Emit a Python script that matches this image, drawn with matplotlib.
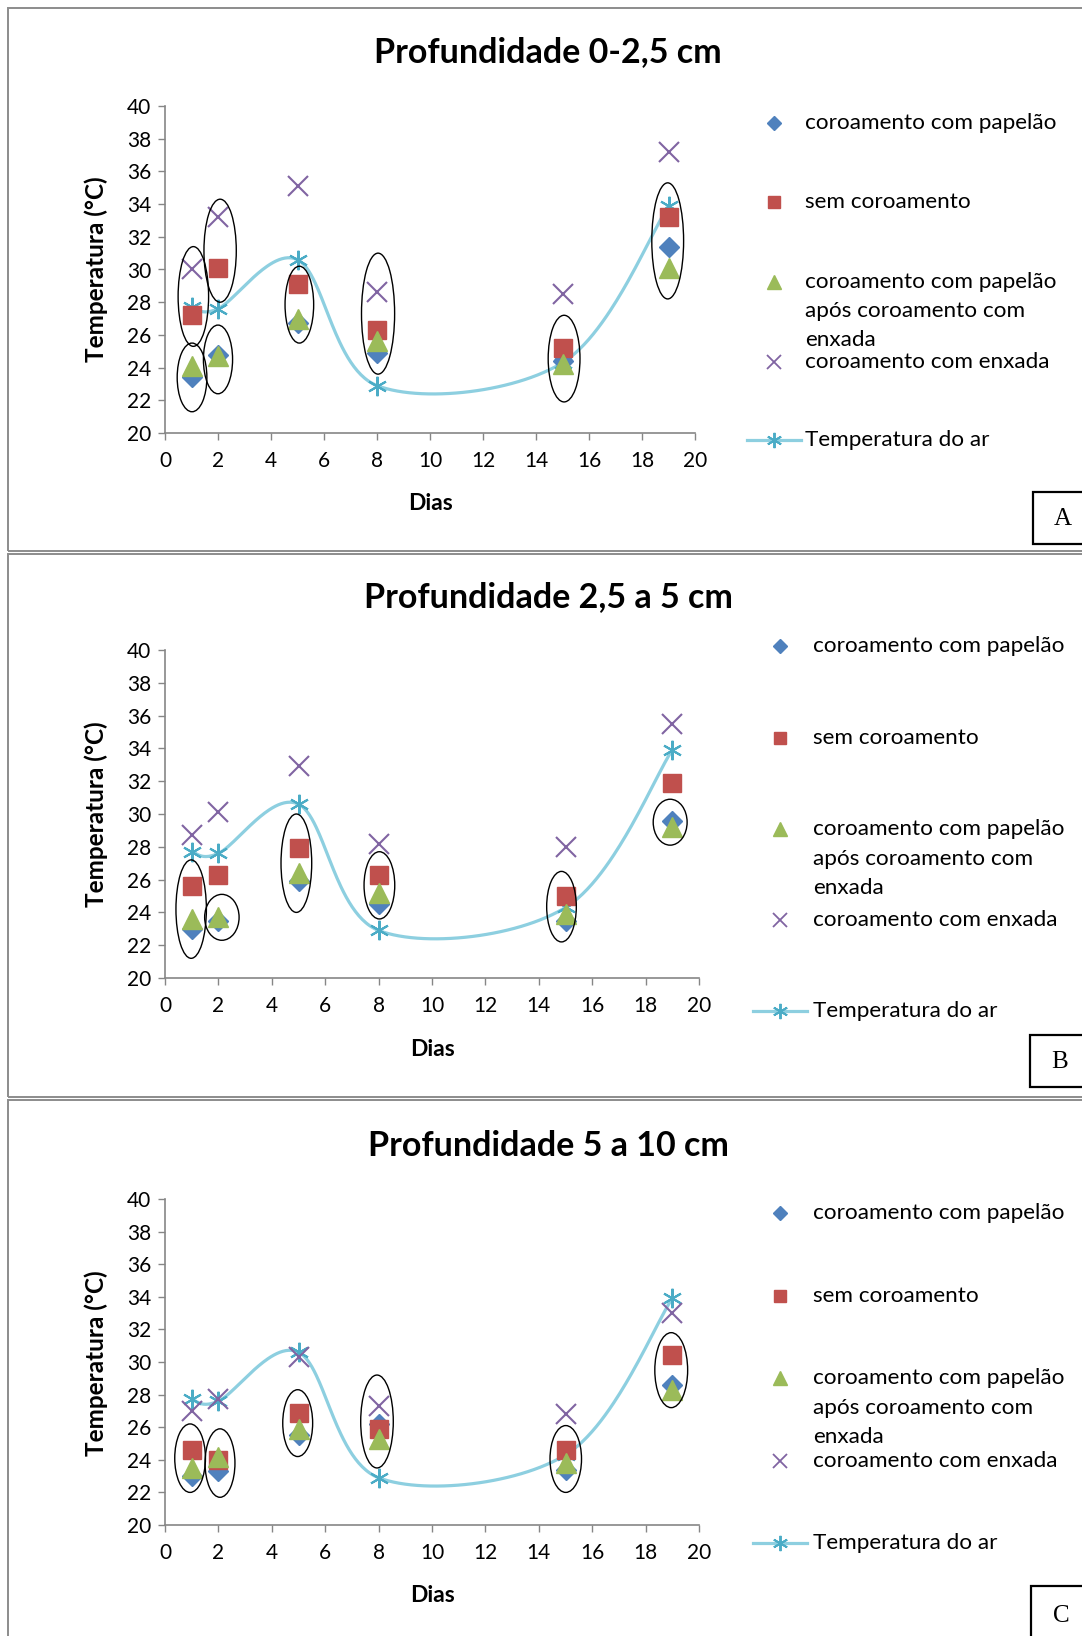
import numpy as np
import matplotlib
matplotlib.use("Agg")
import matplotlib.pyplot as plt
from matplotlib.patches import Ellipse, Rectangle
from matplotlib.lines import Line2D

plt.rcParams['font.family'] = ['Lato', 'DejaVu Sans']

# ---------------- data ----------------
days = [1, 2, 5, 8, 15, 19]
air_temp = [27.7, 27.6, 30.6, 22.9, 24.3, 33.9]

# Profundidade 0-2,5 cm
a_papelao = [23.4, 24.8, 26.7, 24.9, 24.4, 31.4]
a_sem = [27.2, 30.1, 29.1, 26.3, 25.2, 33.2]
a_pap_enx = [24.1, 24.7, 27.0, 25.6, 24.2, 30.1]
a_enxada = [30.0, 33.2, 35.1, 28.6, 28.5, 37.2]

# Profundidade 2,5 a 5 cm
b_papelao = [23.0, 23.5, 25.9, 24.5, 23.5, 29.6]
b_sem = [25.6, 26.3, 27.9, 26.3, 25.0, 31.9]
b_pap_enx = [23.6, 23.7, 26.4, 25.2, 23.9, 29.2]
b_enxada = [28.7, 30.1, 32.9, 28.2, 28.0, 35.5]

# Profundidade 5 a 10 cm
c_papelao = [23.0, 23.3, 25.5, 26.2, 23.4, 28.6]
c_sem = [24.6, 24.0, 26.9, 25.9, 24.6, 30.4]
c_pap_enx = [23.5, 24.2, 25.9, 25.3, 23.8, 28.3]
c_enxada = [27.0, 27.7, 30.3, 27.3, 26.8, 33.0]

titles = ["Profundidade 0-2,5 cm", "Profundidade 2,5 a 5 cm", "Profundidade 5 a 10 cm"]
panel_letters = ["A", "B", "C"]
legend_labels = ["coroamento com papelão", "sem coroamento",
                 "coroamento com papelão\napós coroamento com\nenxada",
                 "coroamento com enxada", "Temperatura do ar"]
x_ticks = list(range(0, 21, 2))
y_ticks = list(range(20, 41, 2))

# annotation ellipses: (day, y_low, y_high, width in days)
ellipses_a = [(1.07, 25.3, 31.4, 1.15), (1.02, 21.3, 25.5, 1.12), (2.08, 28.0, 34.3, 1.22),
              (2.0, 22.4, 26.6, 1.1), (5.07, 25.5, 30.2, 1.08), (8.04, 23.6, 31.0, 1.25),
              (15.06, 21.9, 27.2, 1.2), (18.97, 28.2, 35.3, 1.2)]
ellipses_b = [(0.98, 21.2, 27.2, 1.14), (2.13, 22.3, 25.1, 1.29), (4.92, 24.0, 30.0, 1.15),
              (8.03, 23.6, 27.7, 1.15), (14.85, 22.2, 26.5, 1.11), (18.92, 28.1, 30.9, 1.27)]
ellipses_c = [(0.94, 22.0, 26.2, 1.15), (2.06, 21.7, 25.9, 1.12), (4.97, 24.2, 28.3, 1.12),
              (7.94, 23.5, 29.2, 1.22), (15.01, 22.0, 26.1, 1.18), (18.96, 27.2, 31.8, 1.23)]

# ---------------- styles ----------------
C_BLUE = '#4F81BD'
C_RED = '#C0504D'
C_GREEN = '#9BBB59'
C_PURPLE = '#8064A2'
C_AQUA = '#4BACC6'
C_AIRLINE = '#8DCFE0'
GRAY = '#868686'

W, H = 1082, 1636
fig = plt.figure(figsize=(W / 100, H / 100), dpi=100)


def fx(px):
    return px / W


def fy(py):
    return 1 - py / H


def excel_smooth(x, y, n=60):
    x = np.asarray(x, float)
    y = np.asarray(y, float)
    px = np.concatenate([[x[0]], x, [x[-1]]])
    py = np.concatenate([[y[0]], y, [y[-1]]])
    t = np.linspace(0, 1, n)
    xs, ys = [], []
    for i in range(1, len(px) - 2):
        p0x, p1x, p2x, p3x = px[i - 1:i + 3]
        p0y, p1y, p2y, p3y = py[i - 1:i + 3]
        c1x, c1y = p1x + (p2x - p0x) / 6, p1y + (p2y - p0y) / 6
        c2x, c2y = p2x - (p3x - p1x) / 6, p2y - (p3y - p1y) / 6
        bx = (1 - t) ** 3 * p1x + 3 * (1 - t) ** 2 * t * c1x + 3 * (1 - t) * t ** 2 * c2x + t ** 3 * p2x
        by = (1 - t) ** 3 * p1y + 3 * (1 - t) ** 2 * t * c1y + 3 * (1 - t) * t ** 2 * c2y + t ** 3 * p2y
        xs.append(bx)
        ys.append(by)
    return np.concatenate(xs), np.concatenate(ys)


STAR = (6, 2, 0)

series_styles = [
    dict(marker='D', color=C_BLUE, ms=10.5, mec=C_BLUE),
    dict(marker='s', color=C_RED, ms=13.5, mec=C_RED),
    dict(marker='^', color=C_GREEN, ms=14.5, mec=C_GREEN),
    dict(marker='x', color=C_PURPLE, ms=14, mew=1.5),
]
legend_styles = [
    dict(marker='D', color=C_BLUE, ms=7.5, mec=C_BLUE),
    dict(marker='s', color=C_RED, ms=9, mec=C_RED),
    dict(marker='^', color=C_GREEN, ms=10, mec=C_GREEN),
    dict(marker='x', color=C_PURPLE, ms=10, mew=1.3),
]

panels = [
    dict(rect=(165, 106, 695, 433), data=[a_papelao, a_sem, a_pap_enx, a_enxada], ell=ellipses_a,
         title_y=52, ylabel_y=269, xlabel=(430, 504), frame=(8, 8, 551),
         leg=(774, 805, [123, 202, 282, 362, 440], 29), box=(1033, 492, 1090, 544)),
    dict(rect=(165, 650, 699, 978), data=[b_papelao, b_sem, b_pap_enx, b_enxada], ell=ellipses_b,
         title_y=597, ylabel_y=814, xlabel=(432, 1049), frame=(8, 554, 1097),
         leg=(780, 813, [646, 738, 829, 920, 1011], 29.5), box=(1030, 1035, 1090, 1087)),
    dict(rect=(165, 1199, 699, 1525), data=[c_papelao, c_sem, c_pap_enx, c_enxada], ell=ellipses_c,
         title_y=1146, ylabel_y=1363, xlabel=(432, 1596), frame=(8, 1100, 1645),
         leg=(780, 813, [1213, 1296, 1378, 1461, 1543], 29.5), box=(1031, 1586, 1090, 1645)),
]

for k, p in enumerate(panels):
    # panel frame
    x0, t0, b0 = p['frame']
    fig.add_artist(Rectangle((fx(x0), fy(b0)), fx(1200) - fx(x0), fy(t0) - fy(b0),
                             transform=fig.transFigure, fill=False, ec='#8C8C8C', lw=1.4))

    l, t, r, b = p['rect']
    ax = fig.add_axes([fx(l), fy(b), fx(r) - fx(l), fy(t) - fy(b)])
    ax.set_xlim(0, 20)
    ax.set_ylim(20, 40)
    ax.set_xticks(x_ticks)
    ax.set_yticks(y_ticks)
    ax.tick_params(axis='both', direction='out', length=5, width=1, color=GRAY,
                   labelsize=15, pad=5)
    ax.tick_params(axis='x', pad=8)
    for s in ['top', 'right']:
        ax.spines[s].set_visible(False)
    for s in ['left', 'bottom']:
        ax.spines[s].set_color(GRAY)
        ax.spines[s].set_linewidth(1.2)
    ax.set_facecolor('none')

    # air temperature (drawn first, underneath)
    sx, sy = excel_smooth(days, air_temp)
    ax.plot(sx, sy, color=C_AIRLINE, lw=2.3, zorder=2, solid_capstyle='round')
    ax.plot(days, air_temp, linestyle='none', marker=STAR, ms=14, mew=1.5,
            color=C_AQUA, zorder=2.1)

    for j, (vals, st) in enumerate(zip(p['data'], series_styles)):
        ax.plot(days, vals, linestyle='none', zorder=3 + j * 0.1, clip_on=False, **st)

    for (d, lo, hi, w) in p['ell']:
        ax.add_patch(Ellipse((d, (lo + hi) / 2), w, hi - lo, fill=False, ec='black',
                             lw=1.0, zorder=5, clip_on=False))

    # texts
    fig.text(fx(548), fy(p['title_y']), titles[k], ha='center', va='center',
             fontsize=24.5, fontweight='bold')
    fig.text(fx(96), fy(p['ylabel_y']), "Temperatura (°C)", rotation=90, ha='center',
             va='center', fontsize=17.5, fontweight='bold')
    fig.text(fx(p['xlabel'][0]), fy(p['xlabel'][1]), "Dias", ha='center', va='center',
             fontsize=16.5, fontweight='bold')

    # legend
    mx, tx, ys, gap = p['leg']
    for i, lab in enumerate(legend_labels):
        y = ys[i]
        if i < 4:
            fig.add_artist(Line2D([fx(mx)], [fy(y)], transform=fig.transFigure,
                                  linestyle='none', **legend_styles[i]))
        else:
            fig.add_artist(Line2D([fx(mx - 27), fx(mx + 27)], [fy(y), fy(y)],
                                  transform=fig.transFigure, color=C_AIRLINE, lw=2.3))
            fig.add_artist(Line2D([fx(mx)], [fy(y)], transform=fig.transFigure,
                                  linestyle='none', marker=STAR, ms=11, mew=1.4, color=C_AQUA))
        for li, line in enumerate(lab.split('\n')):
            fig.text(fx(tx), fy(y + li * gap), line, ha='left', va='center', fontsize=16.2)

    # letter box
    bx0, by0, bx1, by1 = p['box']
    fig.add_artist(Rectangle((fx(bx0), fy(by1)), fx(bx1) - fx(bx0), fy(by0) - fy(by1),
                             transform=fig.transFigure, fill=True, fc='white', ec='black', lw=1.6))
    fig.text(fx(bx0 + 30), fy((by0 + by1) / 2 + 1), panel_letters[k], ha='center', va='center',
             fontsize=18, family='Liberation Serif')

fig.savefig("out.png", dpi=100)
